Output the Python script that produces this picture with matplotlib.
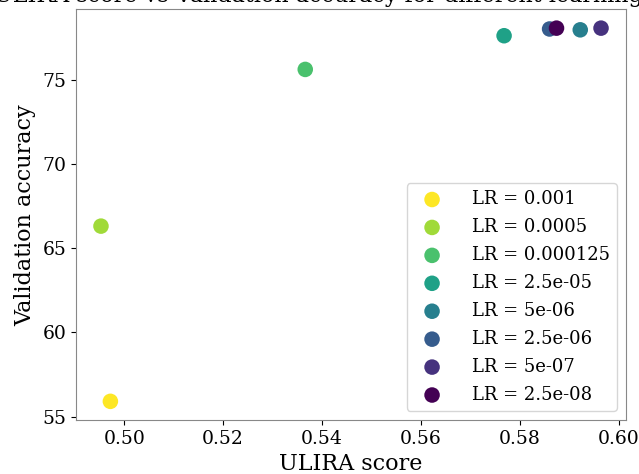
import matplotlib
matplotlib.use("Agg")
import matplotlib.pyplot as plt
import numpy as np

plt.rcParams.update({"font.family": "DejaVu Serif", "font.size": 12})

# one run per learning rate
LR_LABELS = ["0.001", "0.0005", "0.000125", "2.5e-05", "5e-06", "2.5e-06", "5e-07", "2.5e-08"]
ULIRA = [0.4972, 0.4953, 0.5366, 0.5768, 0.5922, 0.5860, 0.5964, 0.5874]
VAL_ACC = [55.9, 66.3, 75.6, 77.6, 77.95, 78.0, 78.05, 78.05]

colors = plt.cm.viridis(np.linspace(1, 0, len(LR_LABELS)))

fig = plt.figure(figsize=(6.39, 4.74), dpi=100)
ax = fig.add_axes([0.1189, 0.1139, 0.8608, 0.8661])

for lr, x, y, c in zip(LR_LABELS, ULIRA, VAL_ACC, colors):
    ax.scatter(x, y, s=125, color=c, edgecolors="none", label=f"LR = {lr}")

ax.set_xlabel("ULIRA score", fontsize=16)
ax.set_ylabel("Validation accuracy", fontsize=16)
ax.set_xticks([0.50, 0.52, 0.54, 0.56, 0.58, 0.60])
ax.set_yticks([55, 60, 65, 70, 75])
ax.tick_params(labelsize=13.5)
for s in ax.spines.values():
    s.set_color("#888888")

ax.legend(loc="lower right", fontsize=13, labelspacing=0.55, handletextpad=1.2)

# title sits mostly above the cropped top edge
fig.text(0.549, 1 - 2 / 474, "ULIRA score vs Validation accuracy for different learning rates",
         ha="center", va="baseline", fontsize=16)

fig.savefig("out.png", dpi=100)
